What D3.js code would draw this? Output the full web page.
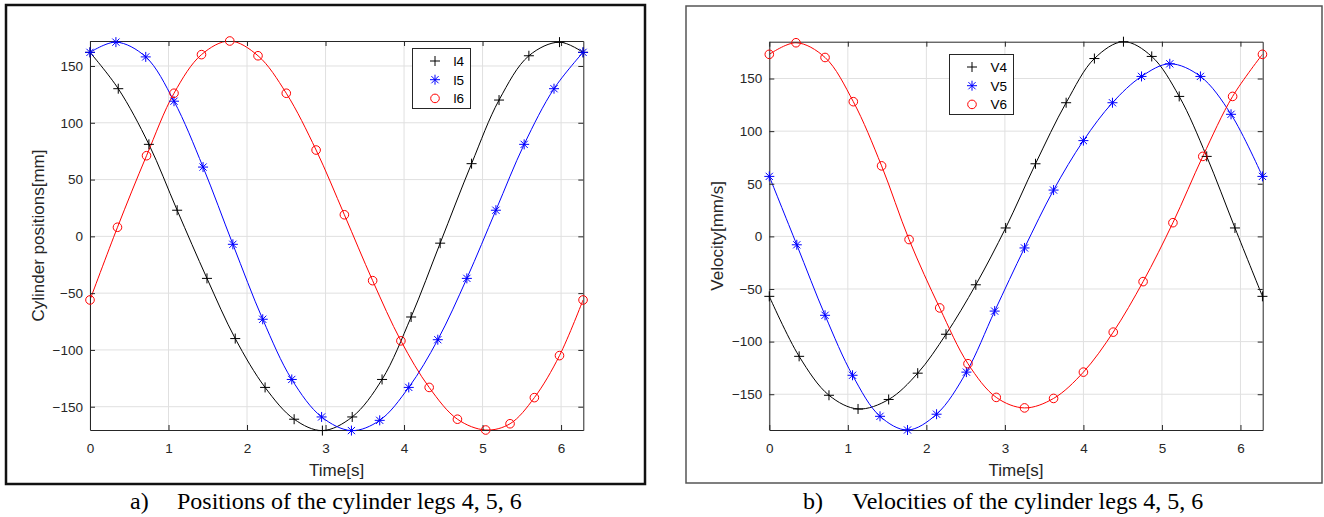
<!DOCTYPE html>
<html>
<head>
<meta charset="utf-8">
<script src="https://cdn.jsdelivr.net/npm/d3@7"></script>
<style>
  body { margin: 0; background: #fff; }
  svg { display: block; }
</style>
</head>
<body>
<svg class="entry-point"></svg>
<script>
/* data */
const xTicks = [0, 1, 2, 3, 4, 5, 6]
const yTicks = [-150, -100, -50, 0, 50, 100, 150]

// a) cylinder positions [mm]
const tL4 = [0, 0.36, 0.75, 1.11, 1.49, 1.85, 2.23, 2.60, 2.96, 3.34, 3.72, 4.09, 4.46, 4.86, 5.21, 5.59, 5.98, 6.28]
const l4 = [162, 130, 81, 23, -37, -90, -133, -161, -171, -159, -126, -71, -6, 64, 120, 159, 171, 162]
const tL5 = [0, 0.33, 0.71, 1.07, 1.44, 1.82, 2.20, 2.57, 2.95, 3.33, 3.69, 4.06, 4.43, 4.80, 5.17, 5.53, 5.91, 6.28]
const l5 = [162, 171, 158, 119, 61, -7, -73, -126, -159, -171, -162, -133, -91, -37, 23, 81, 130, 162]
const tL6 = [0, 0.35, 0.72, 1.07, 1.42, 1.78, 2.14, 2.50, 2.88, 3.24, 3.60, 3.96, 4.32, 4.68, 5.04, 5.35, 5.66, 5.98, 6.28]
const l6 = [-56, 8, 71, 126, 160, 172, 159, 126, 76, 19, -39, -92, -133, -161, -170.5, -165, -142, -105, -56]

// b) velocities [mm/s]
const tV4 = [0, 0.38, 0.76, 1.13, 1.52, 1.89, 2.25, 2.63, 3.01, 3.39, 3.78, 4.14, 4.51, 4.87, 5.22, 5.57, 5.93, 6.28]
const v4 = [-57, -114, -151, -164, -155, -130, -93, -46, 8, 69, 127, 169, 185, 171, 133, 76, 8, -57]
const tV5 = [0, 0.35, 0.71, 1.06, 1.41, 1.76, 2.13, 2.51, 2.87, 3.25, 3.62, 4.00, 4.37, 4.74, 5.10, 5.49, 5.88, 6.28]
const v5 = [57, -8, -75, -132, -171, -184, -169, -129, -71, -11, 44, 91, 127, 152, 164, 152, 116, 57]
const tV6 = [0, 0.34, 0.71, 1.07, 1.43, 1.78, 2.17, 2.53, 2.89, 3.25, 3.62, 4.00, 4.38, 4.76, 5.14, 5.52, 5.90, 6.28]
const v6 = [173, 184, 170, 128, 67, -3, -68, -121, -153, -163, -154, -129, -91, -43, 13, 76, 133, 173]

const PI = Math.PI
const FONT = '"Liberation Sans", Arial, Helvetica, sans-serif'
const SERIF = '"Liberation Serif", "Times New Roman", serif'
const AX = '#262626'

const root = d3.select('.entry-point')
  .attr('width', 1324)
  .attr('height', 517)

/* marker shapes */
function drawMarker (g, shape, color, cx, cy) {
  if (shape === 'circle') {
    g.append('circle').attr('cx', cx).attr('cy', cy).attr('r', 4.3)
      .attr('fill', 'none').attr('stroke', color).attr('stroke-width', 1)
    return
  }
  const s = 5, d = 3.6
  let p = `M${cx - s},${cy}H${cx + s}M${cx},${cy - s}V${cy + s}`
  if (shape === 'star') p += `M${cx - d},${cy - d}L${cx + d},${cy + d}M${cx - d},${cy + d}L${cx + d},${cy - d}`
  g.append('path').attr('d', p).attr('fill', 'none')
    .attr('stroke', color).attr('stroke-width', 1)
}

/* one panel */
function drawPanel (p) {
  const g = root.append('g')

  // outer frame
  g.append('rect')
    .attr('x', p.frame[0]).attr('y', p.frame[1])
    .attr('width', p.frame[2]).attr('height', p.frame[3])
    .attr('fill', '#fff').attr('stroke', p.frameColor).attr('stroke-width', p.frameWidth)

  const x = d3.scaleLinear().domain([0, 2 * PI]).range([p.left, p.right])
  const y = d3.scaleLinear().domain(p.yDomain).range([p.bottom, p.top])

  // grid
  g.append('g').selectAll('line').data(xTicks).enter().append('line')
    .attr('x1', d => x(d)).attr('x2', d => x(d))
    .attr('y1', p.top).attr('y2', p.bottom)
    .attr('stroke', '#e0e0e0').attr('stroke-width', 1)
  g.append('g').selectAll('line').data(yTicks).enter().append('line')
    .attr('y1', d => y(d)).attr('y2', d => y(d))
    .attr('x1', p.left).attr('x2', p.right)
    .attr('stroke', '#e0e0e0').attr('stroke-width', 1)

  // lines
  const clipId = 'clip-' + p.id
  g.append('clipPath').attr('id', clipId).append('rect')
    .attr('x', p.left).attr('y', p.top)
    .attr('width', p.right - p.left).attr('height', p.bottom - p.top)
  const line = d3.line()
    .x(d => x(d[0])).y(d => y(d[1]))
    .curve(d3.curveCatmullRom.alpha(0.5))
  p.series.forEach(s => {
    g.append('path').datum(d3.zip(s.t, s.v))
      .attr('clip-path', `url(#${clipId})`)
      .attr('d', line).attr('fill', 'none')
      .attr('stroke', s.color).attr('stroke-width', 1)
  })

  // axes, ticks pointing inward on all four sides
  const styleAxis = a => {
    a.attr('font-family', FONT).attr('font-size', 13.5)
    a.selectAll('path,line').attr('stroke', AX)
    a.selectAll('text').attr('fill', AX)
  }
  const fmt = d3.format('d')
  g.append('g').attr('transform', `translate(0,${p.bottom})`)
    .call(d3.axisBottom(x).tickValues(xTicks).tickFormat(fmt).tickSize(-5).tickSizeOuter(0).tickPadding(13))
    .call(styleAxis)
  g.append('g').attr('transform', `translate(0,${p.top})`)
    .call(d3.axisTop(x).tickValues(xTicks).tickSize(-5).tickSizeOuter(0).tickFormat(''))
    .call(styleAxis)
  g.append('g').attr('transform', `translate(${p.left},0)`)
    .call(d3.axisLeft(y).tickValues(yTicks).tickFormat(fmt).tickSize(-5).tickSizeOuter(0).tickPadding(7))
    .call(styleAxis)
  g.append('g').attr('transform', `translate(${p.right},0)`)
    .call(d3.axisRight(y).tickValues(yTicks).tickSize(-5).tickSizeOuter(0).tickFormat(''))
    .call(styleAxis)

  // markers
  p.series.forEach(s => {
    const mg = g.append('g')
    s.t.forEach((t, i) => drawMarker(mg, s.shape, s.color, x(t), y(s.v[i])))
  })

  // axis labels
  g.append('text')
    .attr('x', (p.left + p.right) / 2).attr('y', 476)
    .attr('text-anchor', 'middle')
    .attr('font-family', FONT).attr('font-size', 17).attr('fill', AX)
    .text('Time[s]')
  g.append('text')
    .attr('transform', `translate(${p.yLabelX},${(p.top + p.bottom) / 2}) rotate(-90)`)
    .attr('text-anchor', 'middle')
    .attr('font-family', FONT).attr('font-size', 17).attr('fill', AX)
    .text(p.yLabel)

  // legend
  const lg = g.append('g')
  lg.append('rect')
    .attr('x', p.legend[0]).attr('y', p.legend[1])
    .attr('width', p.legend[2]).attr('height', p.legend[3])
    .attr('fill', '#fff').attr('stroke', AX).attr('stroke-width', 1)
  p.series.forEach((s, i) => {
    const ly = p.legend[1] + 12.5 + i * 18.7
    drawMarker(lg, s.shape, s.color, p.legend[0] + 22.5, ly)
    lg.append('text')
      .attr('x', p.legend[0] + 41).attr('y', ly).attr('dy', '0.36em')
      .attr('font-family', FONT).attr('font-size', 13.5).attr('fill', '#000')
      .text(s.name)
  })

  // caption
  const cap = g.append('text')
    .attr('y', 509)
    .attr('font-family', SERIF)
    .attr('font-size', 24).attr('fill', '#000')
  cap.append('tspan').attr('x', p.capX[0]).text(p.caption[0])
  cap.append('tspan').attr('x', p.capX[1]).text(p.caption[1])
}

drawPanel({
  id: 'a',
  frame: [6, 5, 639, 479], frameColor: '#111', frameWidth: 2.5,
  left: 90, right: 583.3, top: 41, bottom: 430,
  yDomain: [-170.5, 172],
  yLabel: 'Cylinder positions[mm]', yLabelX: 44,
  legend: [412.5, 48.5, 58, 60],
  caption: ['a)', 'Positions of the cylinder legs 4, 5, 6'], capX: [130, 177],
  series: [
    { name: 'l4', t: tL4, v: l4, color: '#000', shape: 'plus' },
    { name: 'l5', t: tL5, v: l5, color: '#0000ff', shape: 'star' },
    { name: 'l6', t: tL6, v: l6, color: '#ff0000', shape: 'circle' }
  ]
})

drawPanel({
  id: 'b',
  frame: [686, 6, 636, 477], frameColor: '#555', frameWidth: 1.5,
  left: 769.3, right: 1262.7, top: 41.7, bottom: 430,
  yDomain: [-184, 185],
  yLabel: 'Velocity[mm/s]', yLabelX: 723,
  legend: [949.5, 54.5, 64, 60],
  caption: ['b)', 'Velocities of the cylinder legs 4, 5, 6'], capX: [803, 852],
  series: [
    { name: 'V4', t: tV4, v: v4, color: '#000', shape: 'plus' },
    { name: 'V5', t: tV5, v: v5, color: '#0000ff', shape: 'star' },
    { name: 'V6', t: tV6, v: v6, color: '#ff0000', shape: 'circle' }
  ]
})
</script>
</body>
</html>
